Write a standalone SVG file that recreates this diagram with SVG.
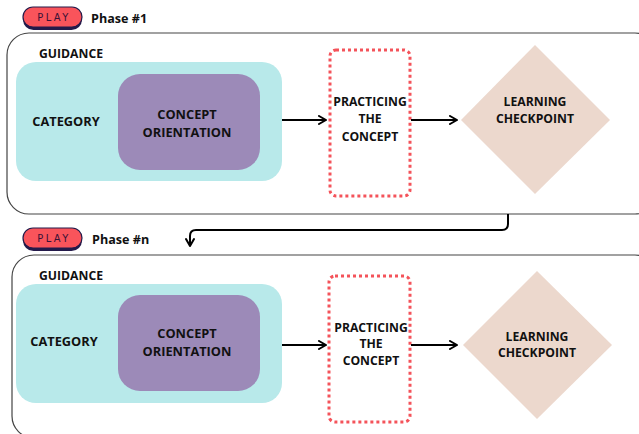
<svg xmlns="http://www.w3.org/2000/svg" width="639" height="434" viewBox="0 0 639 434">
  <defs>
    <marker id="arrow" viewBox="0 0 10 10" refX="9" refY="5" markerWidth="10" markerHeight="10" markerUnits="userSpaceOnUse" orient="auto">
      <path d="M2,1 L9,5 L2,9" fill="none" stroke="#000" stroke-width="2" stroke-linecap="round" stroke-linejoin="round"/>
    </marker>
    <style>
      text { font-family: "Open Sans", "DejaVu Sans", sans-serif; font-weight: bold; fill: #111; }
      .frame { fill: none; stroke: #444; stroke-width: 1.2; }
      .guide { fill: #b8e9ea; }
      .concept { fill: #9c8ab8; }
      .practice { fill: none; stroke: #f4535a; stroke-width: 3; stroke-dasharray: 3 3; }
      .check { fill: #ecd8cd; }
      .lbl { font-size: 12.8px; text-anchor: middle; }
      .sm { font-size: 12.2px; }
      .head { font-size: 12.2px; }
      .phase { font-size: 12.6px; }
      .pill { fill: #f9545b; stroke: #241a4a; stroke-width: 1.2; }
      .pillshadow { fill: #241a4a; }
      .play { font-family: "Liberation Sans Narrow", "DejaVu Sans Condensed", "Liberation Sans", sans-serif; font-size: 11px; font-weight: normal; fill: #3a1236; letter-spacing: 2.4px; text-anchor: middle; }
      .link { fill: none; stroke: #000; stroke-width: 2; }
    </style>
  </defs>

  <!-- Phase 1 header -->
  <g id="phase1-header">
    <rect class="pillshadow" x="23" y="9" width="59" height="21" rx="10.5"/>
    <rect class="pill" x="23" y="7" width="59" height="20" rx="10"/>
    <text class="play" x="54" y="21">PLAY</text>
    <text class="phase" x="91" y="23">Phase #1</text>
  </g>

  <!-- Phase 1 frame -->
  <g id="phase1-frame">
    <rect class="frame" x="7" y="33" width="650" height="181" rx="22"/>
    <text class="head" x="39" y="58">GUIDANCE</text>
  </g>

  <g id="phase1-guidance">
    <rect class="guide" x="16" y="62" width="266" height="119" rx="20"/>
    <text class="lbl" x="66" y="126">CATEGORY</text>
  </g>

  <g id="phase1-concept">
    <rect class="concept" x="118" y="74" width="142" height="96" rx="22"/>
    <text class="lbl" x="187" y="119">CONCEPT</text>
    <text class="lbl" x="187" y="137">ORIENTATION</text>
  </g>

  <g id="phase1-practice">
    <rect class="practice" x="330" y="50" width="80" height="146" rx="6"/>
    <text class="lbl sm" x="370" y="106">PRACTICING</text>
    <text class="lbl sm" x="370" y="123">THE</text>
    <text class="lbl sm" x="370" y="141">CONCEPT</text>
  </g>

  <g id="phase1-checkpoint">
    <polygon class="check" points="535,45 610,120 535,194 461,120"/>
    <text class="lbl sm" x="535" y="106">LEARNING</text>
    <text class="lbl sm" x="535" y="123">CHECKPOINT</text>
  </g>

  <!-- Phase n header -->
  <g id="phasen-header">
    <rect class="pillshadow" x="23" y="230" width="59" height="21" rx="10.5"/>
    <rect class="pill" x="23" y="228" width="59" height="20" rx="10"/>
    <text class="play" x="54" y="242">PLAY</text>
    <text class="phase" x="92" y="244">Phase #n</text>
  </g>

  <!-- Phase n frame -->
  <g id="phasen-frame">
    <rect class="frame" x="12" y="255" width="645" height="183" rx="22"/>
    <text class="head" x="39" y="280">GUIDANCE</text>
  </g>

  <g id="phasen-guidance">
    <rect class="guide" x="16" y="284" width="266" height="119" rx="20"/>
    <text class="lbl" x="64" y="346">CATEGORY</text>
  </g>

  <g id="phasen-concept">
    <rect class="concept" x="118" y="295" width="142" height="96" rx="22"/>
    <text class="lbl" x="187" y="338">CONCEPT</text>
    <text class="lbl" x="187" y="356">ORIENTATION</text>
  </g>

  <g id="phasen-practice">
    <rect class="practice" x="329" y="276" width="81" height="146" rx="6"/>
    <text class="lbl sm" x="371" y="332">PRACTICING</text>
    <text class="lbl sm" x="371" y="348">THE</text>
    <text class="lbl sm" x="371" y="365">CONCEPT</text>
  </g>

  <g id="phasen-checkpoint">
    <polygon class="check" points="537,271 612,345 537,419 463,345"/>
    <text class="lbl sm" x="537" y="341">LEARNING</text>
    <text class="lbl sm" x="537" y="357">CHECKPOINT</text>
  </g>

  <!-- Connectors -->
  <g id="connectors">
    <path class="link" d="M282,120 H326" marker-end="url(#arrow)"/>
    <path class="link" d="M411,120 H457" marker-end="url(#arrow)"/>
    <path class="link" d="M282,345 H326" marker-end="url(#arrow)"/>
    <path class="link" d="M411,345 H457" marker-end="url(#arrow)"/>
    <path class="link" stroke-width="1.6" d="M508,214 V224 Q508,230 502,230 H196 Q190,230 190,236 V246" marker-end="url(#arrow)"/>
  </g>
</svg>
